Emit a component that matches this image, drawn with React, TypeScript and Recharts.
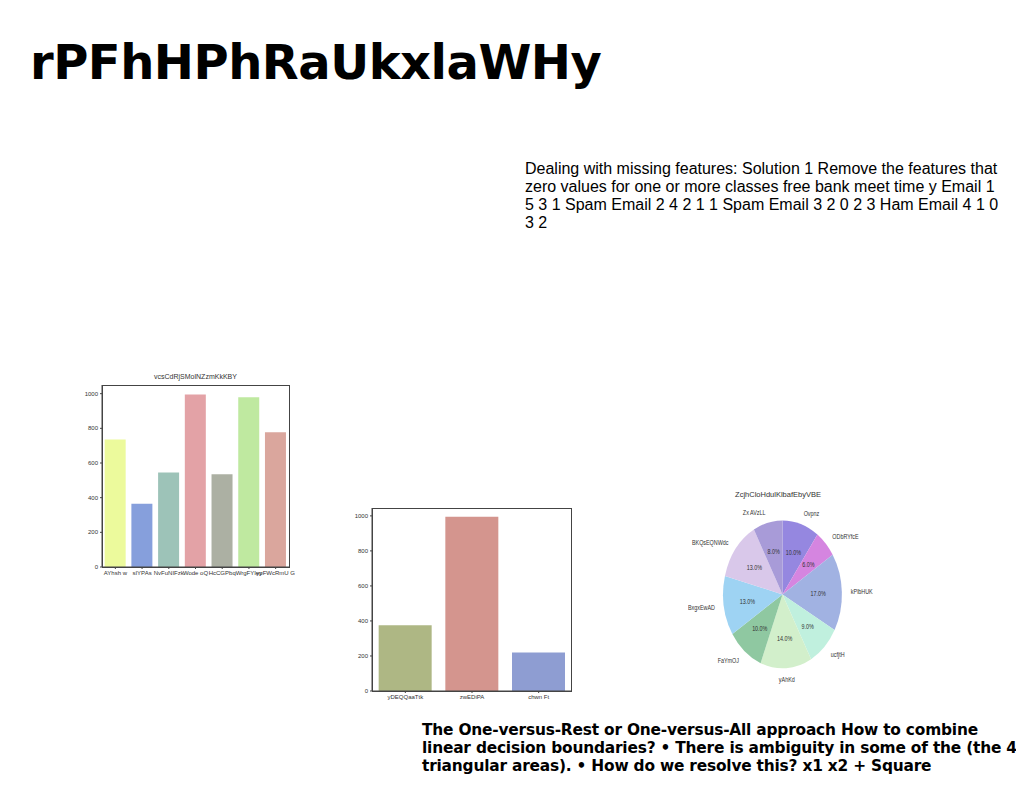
import { Bar, BarChart, Cell, Pie, PieChart, XAxis, YAxis } from 'recharts';

const barNames1 = ['AYhsh w', 'sIYPAs', 'NvFuNIFzk', 'Wode oQ', 'HcCGPbq', 'WrgFYIey', 'ypFWcRmU G'];
const barValues1 = [735, 365, 545, 995, 535, 980, 778];
const barColors1 = ['#ecfa9c', '#869fdc', '#9dc3b8', '#e3a2a6', '#acb0a3', '#bfe9a0', '#daa69d'];

const barNames2 = ['yDEQQaaTtk', 'zwEDiPA', 'chwn Ft'];
const barValues2 = [375, 995, 220];
const barColors2 = ['#aeb784', '#d4958e', '#8e9dd2'];

const pieNames = ['Ovpnz', 'ODbRYfcE', 'kPlbHUK', 'ucfjtH', 'yAhKd', 'FaYmOJ', 'BxgxEwAD', 'BKQsEQNWdc', 'Zx AVzLL'];
const pieValues = [10, 6, 17, 9, 14, 10, 13, 13, 8];
const pieColors = ['#9587e0', '#d585e0', '#a1b2e2', '#c0f0de', '#d2efcb', '#8fc8a1', '#9ed3f3', '#d9c8ea', '#a89bd8'];

const data1 = barNames1.map((name, i) => ({ name, value: barValues1[i] }));
const data2 = barNames2.map((name, i) => ({ name, value: barValues2[i] }));
const pieData = pieNames.map((name, i) => ({ name, value: pieValues[i] }));

const tick = { fill: '#333', fontSize: 6 };
const RAD = Math.PI / 180;

function pieLabel(props: any) {
  const { cx, cy, midAngle, outerRadius, name, percent } = props;
  const ox = cx + (outerRadius + 10) * Math.cos(-midAngle * RAD);
  const oy = cy + (outerRadius + 10) * Math.sin(-midAngle * RAD);
  const ix = cx + outerRadius * 0.6 * Math.cos(-midAngle * RAD);
  const iy = cy + outerRadius * 0.6 * Math.sin(-midAngle * RAD);
  const anchor = Math.abs(ox - cx) < 8 ? 'middle' : ox > cx ? 'start' : 'end';
  return (
    <g>
      <text x={ox} y={oy} fontSize={6} fill="#333" textAnchor={anchor} dominantBaseline="central">{name}</text>
      <text x={ix} y={iy} fontSize={6} fill="#333" textAnchor="middle" dominantBaseline="central">
        {(percent * 100).toFixed(1)}%
      </text>
    </g>
  );
}

const frame = (left: number, top: number, width: number, height: number) => (
  <div style={{ position: 'absolute', left, top, width, height, border: '1px solid #444', boxSizing: 'border-box', pointerEvents: 'none' }} />
);

export default function App() {
  return (
    <div style={{ position: 'relative', width: 1024, height: 788, margin: -8, background: '#fff', fontFamily: 'Arial, sans-serif' }}>
      <div style={{ position: 'absolute', left: 30, top: 34, fontSize: 48, fontWeight: 'bold', fontFamily: '"DejaVu Sans", sans-serif', letterSpacing: -0.5 }}>
        rPFhHPhRaUkxlaWHy
      </div>
      <div style={{ position: 'absolute', left: 525, top: 160, width: 480, fontSize: 16, lineHeight: '18px', fontFamily: '"Liberation Sans", Arial, sans-serif' }}>
        Dealing with missing features: Solution 1 Remove the features that zero values for one or more classes free bank meet time y Email 1 5 3 1 Spam Email 2 4 2 1 1 Spam Email 3 2 0 2 3 Ham Email 4 1 0 3 2
      </div>
      <div style={{ position: 'absolute', left: 422, top: 721, width: 602, fontSize: 15.4, lineHeight: '18px', fontWeight: 'bold', fontFamily: '"DejaVu Sans", sans-serif', letterSpacing: -0.2 }}>
        The One-versus-Rest or One-versus-All approach How to combine linear decision boundaries? • There is ambiguity in some of the (the 4 triangular areas). • How do we resolve this? x1 x2 + Square
      </div>

      <div style={{ position: 'absolute', left: 70, top: 370 }}>
        <div style={{ position: 'absolute', left: 32, width: 187, top: 3, textAlign: 'center', fontSize: 7, color: '#333' }}>vcsCdRjSMolNZzmKkKBY</div>
        <BarChart width={230} height={215} data={data1} margin={{ top: 15, right: 11, bottom: 0, left: 0 }} barCategoryGap="10%">
          <XAxis dataKey="name" tick={tick} interval={0} stroke="#444" tickSize={2} height={18} />
          <YAxis domain={[0, 1050]} ticks={[0, 200, 400, 600, 800, 1000]} tick={tick} stroke="#444" tickSize={2} width={32} />
          <Bar dataKey="value" isAnimationActive={false}>
            {barColors1.map((c, i) => <Cell key={i} fill={c} />)}
          </Bar>
        </BarChart>
        {frame(32, 15, 188, 183)}
      </div>

      <div style={{ position: 'absolute', left: 340, top: 508 }}>
        <BarChart width={242} height={200} data={data2} margin={{ top: 0, right: 10, bottom: 0, left: 0 }} barCategoryGap="10%">
          <XAxis dataKey="name" tick={tick} stroke="#444" tickSize={2} height={17} />
          <YAxis domain={[0, 1045]} ticks={[0, 200, 400, 600, 800, 1000]} tick={tick} stroke="#444" tickSize={2} width={32} />
          <Bar dataKey="value" isAnimationActive={false}>
            {barColors2.map((c, i) => <Cell key={i} fill={c} />)}
          </Bar>
        </BarChart>
        {frame(32, 0, 200, 184)}
      </div>

      <div style={{ position: 'absolute', left: 638, top: 484 }}>
        <div style={{ position: 'absolute', left: 40, width: 200, top: 6, textAlign: 'center', fontSize: 7.5, color: '#333' }}>ZcjhCloHdulKlbafEbyVBE</div>
        <div style={{ transform: 'scale(0.9, 1.12)', transformOrigin: '140px 116px' }}>
          <PieChart width={280} height={220}>
            <Pie data={pieData} dataKey="value" cx={140} cy={106} outerRadius={66} startAngle={90} endAngle={-270}
              label={pieLabel} labelLine={false} stroke="none" isAnimationActive={false}>
              {pieColors.map((c, i) => <Cell key={i} fill={c} />)}
            </Pie>
          </PieChart>
        </div>
      </div>
    </div>
  );
}
